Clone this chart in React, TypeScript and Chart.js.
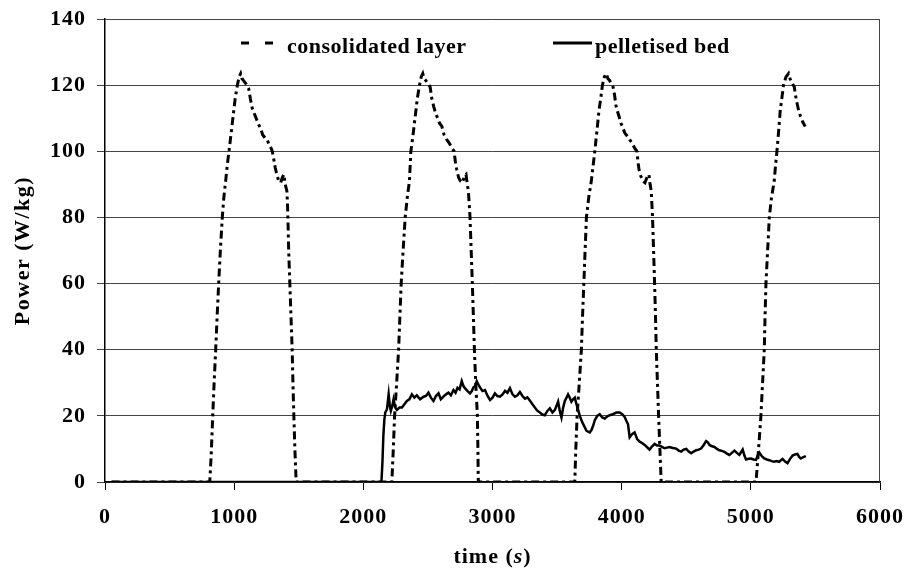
import React, { useEffect, useRef } from 'react';
import { Chart, registerables } from 'chart.js';

Chart.register(...registerables);

// ---------- data ----------
const xTickValues = [0, 1000, 2000, 3000, 4000, 5000, 6000];
const yTickValues = [0, 20, 40, 60, 80, 100, 120, 140];

const seriesNames = ['consolidated layer', 'pelletised bed'];

// consolidated layer: [time (s), power (W/kg)]
const layerIdle1: [number, number][] = [[50, 0], [811, 0]];
const layerCycle1: [number, number][] = [
  [822, 8], [834, 20], [846, 31], [857, 40], [868, 50], [880, 60], [893, 70], [908, 80], [920, 86], [934, 91],
  [947, 96], [960, 100], [975, 105], [990, 110], [1008, 116], [1025, 120], [1038, 122.5], [1050, 123.5], [1060, 122],
  [1070, 121.5], [1090, 120.5], [1112, 119], [1125, 116], [1140, 113], [1155, 111.5], [1170, 110], [1190, 108],
  [1205, 107], [1220, 105], [1240, 104], [1256, 103.5], [1270, 102], [1285, 101], [1295, 100], [1305, 98],
  [1318, 95], [1330, 93], [1345, 91], [1360, 90.5], [1372, 92], [1385, 93], [1395, 90], [1408, 88], [1413, 84],
  [1416, 80], [1422, 70], [1431, 60], [1440, 50], [1449, 40], [1455, 30], [1462, 20], [1470, 10], [1480, 0],
];
const layerIdle2: [number, number][] = [[2221, 0]];
const layerCycle2: [number, number][] = [
  [2232, 10], [2242, 20], [2258, 30], [2273, 40], [2283, 50], [2293, 60], [2308, 70], [2324, 80], [2340, 86],
  [2357, 91], [2368, 100], [2385, 105], [2400, 110], [2418, 116], [2435, 120], [2448, 122.5], [2460, 123.5],
  [2470, 122], [2482, 121.5], [2500, 120.5], [2517, 119.5], [2530, 116], [2545, 113.5], [2556, 112], [2575, 110],
  [2590, 108.5], [2608, 107.5], [2625, 105], [2646, 103.5], [2665, 102.5], [2685, 101], [2703, 100], [2712, 97],
  [2723, 94.5], [2738, 92], [2752, 91], [2768, 90.5], [2782, 92.5], [2795, 93], [2805, 90], [2813, 88], [2820, 84],
  [2826, 80], [2835, 70], [2844, 60], [2852, 50], [2860, 40], [2870, 30], [2883, 20], [2887, 10], [2890, 0],
];
const layerIdle3: [number, number][] = [[3637, 0]];
const layerCycle3: [number, number][] = [
  [3645, 10], [3655, 20], [3672, 30], [3688, 40], [3697, 50], [3707, 60], [3717, 70], [3727, 80], [3745, 86],
  [3765, 91], [3780, 96], [3792, 100], [3808, 106], [3825, 112.5], [3838, 116], [3851, 120], [3866, 122.5],
  [3881, 123.5], [3893, 122], [3905, 121.5], [3920, 120.5], [3933, 119.5], [3945, 117], [3955, 114], [3964, 112.5],
  [3980, 110.5], [3995, 108.5], [4005, 107.5], [4025, 105.5], [4045, 104.5], [4062, 103.5], [4080, 102.5],
  [4100, 101], [4118, 100], [4126, 97], [4134, 94.5], [4148, 92.5], [4165, 91], [4180, 90.5], [4195, 92],
  [4211, 93], [4220, 90], [4229, 88], [4234, 84], [4239, 80], [4247, 70], [4255, 60], [4262, 50], [4268, 40],
  [4277, 30], [4286, 20], [4296, 10], [4306, 0],
];
const layerIdle4: [number, number][] = [[5040, 0]];
const layerCycle4: [number, number][] = [
  [5060, 10], [5078, 20], [5091, 30], [5104, 40], [5110, 50], [5117, 60], [5130, 70], [5143, 80], [5160, 86],
  [5181, 91], [5192, 96], [5202, 100], [5215, 106], [5228, 112.5], [5240, 116], [5253, 120], [5272, 122.5],
  [5292, 123.5], [5303, 122], [5315, 121], [5336, 119.5], [5350, 116], [5369, 112.5], [5385, 110.5], [5400, 109],
  [5421, 107.5],
];

// pelletised bed: [time (s), power (W/kg)]
const bedIdle: [number, number][] = [[50, 0], [2140, 0]];
const bedStartup: [number, number][] = [
  [2148, 6], [2155, 14], [2163, 19], [2170, 21], [2183, 22], [2196, 26.5], [2205, 23], [2213, 21.5], [2224, 23],
  [2234, 25], [2247, 22.5], [2260, 21.8], [2280, 22.5], [2299, 22.5], [2318, 23.5], [2337, 24.5], [2356, 25],
  [2376, 26.5], [2395, 25.5], [2414, 26.2], [2440, 25], [2466, 25.8], [2485, 26], [2504, 27], [2523, 25.5],
  [2543, 24.5], [2562, 26], [2582, 26.8], [2600, 25], [2620, 25.8], [2640, 26.5], [2659, 27], [2678, 26.2],
  [2698, 27.8], [2714, 27], [2729, 28.5], [2745, 28], [2762, 30.5], [2775, 29], [2788, 28.3], [2807, 27.5],
  [2826, 26.8], [2840, 27.5], [2852, 28.6], [2865, 29], [2878, 30.5], [2890, 29.5], [2903, 28.6],
];
const bedPlateau: [number, number][] = [
  [2922, 27.5], [2942, 27.8], [2962, 26], [2981, 24.8], [3000, 25.5], [3019, 26.8], [3038, 26], [3058, 25.8],
  [3078, 26.5], [3097, 27.6], [3116, 27], [3135, 28.4], [3155, 26.5], [3174, 25.8], [3193, 26.2], [3212, 27.2],
  [3232, 26], [3251, 25.2], [3270, 25.6], [3290, 24.6], [3309, 23.5], [3328, 22.5], [3348, 21.5], [3367, 21],
  [3386, 20.4], [3405, 20.2], [3425, 21.5], [3444, 22.3], [3464, 21], [3483, 21.8], [3495, 23], [3508, 24.3],
  [3521, 21.5], [3534, 19.5], [3547, 22.5], [3560, 24.5], [3573, 25.5], [3585, 26.5], [3598, 25.5], [3611, 24.3],
  [3624, 25], [3637, 25.5], [3650, 23.5], [3663, 21.8], [3676, 20], [3689, 18.7], [3702, 17.5], [3714, 16.6],
  [3727, 15.5], [3740, 15.2], [3753, 15], [3766, 15.7], [3779, 17], [3792, 18.7], [3811, 20], [3830, 20.5],
  [3850, 19.5], [3869, 19.2], [3888, 19.8], [3907, 20.2], [3933, 20.5], [3959, 21], [3985, 21], [4004, 20.5],
  [4023, 19.7], [4036, 18.5], [4049, 17.5], [4062, 13.5],
];
const bedDecline: [number, number][] = [
  [4081, 14.5], [4100, 15], [4120, 13], [4139, 12.2], [4158, 11.8], [4178, 11.2], [4197, 10.5], [4216, 9.8],
  [4236, 10.8], [4255, 11.5], [4274, 11], [4293, 11], [4313, 10.6], [4332, 10.2], [4351, 10.4], [4371, 10.6],
  [4396, 10.3], [4422, 10.1], [4441, 9.5], [4461, 9.2], [4480, 9.8], [4500, 10], [4519, 9.2], [4538, 8.7],
  [4557, 9.2], [4577, 9.6], [4596, 9.8], [4615, 10.1], [4635, 11.2], [4654, 12.4], [4667, 12], [4680, 11.2],
  [4699, 10.8], [4718, 10.6], [4738, 10], [4757, 9.6], [4776, 9.4], [4795, 9.1], [4815, 8.6], [4834, 8.2],
  [4853, 8.8], [4873, 9.5], [4892, 8.8], [4911, 8.2], [4924, 9], [4937, 9.8], [4950, 8], [4963, 6.8], [4982, 7],
  [5002, 7.1], [5021, 6.8], [5040, 6.7], [5053, 8], [5066, 8.9], [5085, 7.8], [5104, 7.1], [5124, 6.8],
  [5143, 6.6], [5162, 6.3], [5181, 6.1], [5200, 6.3], [5220, 6.1], [5233, 6.6], [5246, 7], [5265, 6.2],
  [5284, 5.7], [5304, 7], [5323, 8], [5342, 8.3], [5361, 8.5], [5374, 7.6], [5387, 7.1], [5406, 7.5], [5426, 7.8],
];

const layerPoints = [
  ...layerIdle1, ...layerCycle1, ...layerIdle2, ...layerCycle2,
  ...layerIdle3, ...layerCycle3, ...layerIdle4, ...layerCycle4,
];
const bedPoints = [...bedIdle, ...bedStartup, ...bedPlateau, ...bedDecline];

const FONT = '"Liberation Serif", "Times New Roman", serif';

const decorPlugin = {
  id: 'decor',
  beforeDraw(chart: any) {
    (chart.ctx as any).letterSpacing = '1px';
  },
  afterDraw(chart: any) {
    const { ctx, chartArea: a } = chart;
    ctx.save();
    // right frame line
    ctx.strokeStyle = '#444';
    ctx.lineWidth = 1;
    ctx.setLineDash([]);
    ctx.beginPath();
    ctx.moveTo(a.right - 0.5, a.top);
    ctx.lineTo(a.right - 0.5, a.bottom);
    ctx.stroke();

    // legend
    const ly = a.top + 24;
    ctx.strokeStyle = '#000';
    ctx.lineWidth = 3;
    ctx.setLineDash([8, 16]);
    ctx.beginPath();
    ctx.moveTo(a.left + 136, ly);
    ctx.lineTo(a.left + 170, ly);
    ctx.stroke();
    ctx.setLineDash([]);
    ctx.beginPath();
    ctx.moveTo(a.left + 448, ly);
    ctx.lineTo(a.left + 487, ly);
    ctx.stroke();

    ctx.fillStyle = '#000';
    ctx.font = `bold 22px ${FONT}`;
    (ctx as any).letterSpacing = '0.5px';
    ctx.textAlign = 'left';
    ctx.textBaseline = 'alphabetic';
    ctx.fillText(seriesNames[0], a.left + 182, ly + 10);
    ctx.fillText(seriesNames[1], a.left + 490, ly + 10);

    // y axis title
    ctx.save();
    ctx.translate(23, (a.top + a.bottom) / 2);
    ctx.rotate(-Math.PI / 2);
    ctx.textAlign = 'center';
    ctx.textBaseline = 'middle';
    (ctx as any).letterSpacing = '1.5px';
    ctx.font = `bold 22px ${FONT}`;
    ctx.fillText('Power (W/kg)', 0, 0);
    ctx.restore();

    // x axis title with italic s
    const parts: [string, string][] = [
      ['time (', `bold 22px ${FONT}`],
      ['s', `italic bold 22px ${FONT}`],
      [')', `bold 22px ${FONT}`],
    ];
    (ctx as any).letterSpacing = '1px';
    let total = 0;
    const widths = parts.map(([t, f]) => {
      ctx.font = f;
      const w = ctx.measureText(t).width;
      total += w;
      return w;
    });
    let x = (a.left + a.right) / 2 - total / 2;
    ctx.textAlign = 'left';
    ctx.textBaseline = 'alphabetic';
    parts.forEach(([t, f], i) => {
      ctx.font = f;
      ctx.fillText(t, x, 563);
      x += widths[i];
    });
    ctx.restore();
  },
};

export default function App() {
  const ref = useRef<HTMLCanvasElement | null>(null);

  useEffect(() => {
    if (!ref.current) return;
    const tickFont = { family: FONT, size: 22, weight: 'bold' as const };
    const plain = (v: any) => String(v);
    const chart = new Chart(ref.current, {
      type: 'line',
      data: {
        datasets: [
          {
            label: seriesNames[0],
            data: layerPoints.map(([x, y]) => ({ x, y })),
            borderColor: '#000',
            borderWidth: 3,
            borderDash: [8, 4, 3, 4],
            pointRadius: 0,
            tension: 0,
            fill: false,
          },
          {
            label: seriesNames[1],
            data: bedPoints.map(([x, y]) => ({ x, y })),
            borderColor: '#000',
            borderWidth: 2.5,
            pointRadius: 0,
            tension: 0,
            fill: false,
          },
        ],
      },
      options: {
        animation: false,
        responsive: false,
        maintainAspectRatio: false,
        devicePixelRatio: 1,
        layout: { padding: { top: 19, right: 28, left: 0, bottom: 0 } },
        plugins: { legend: { display: false }, tooltip: { enabled: false }, title: { display: false } },
        scales: {
          x: {
            type: 'linear',
            min: 0,
            max: 6000,
            afterBuildTicks: (s: any) => { s.ticks = xTickValues.map((v) => ({ value: v })); },
            ticks: { color: '#000', font: tickFont, padding: 14, maxRotation: 0, autoSkip: false, callback: plain },
            grid: { drawOnChartArea: false, drawTicks: true, tickLength: 8, color: '#000', lineWidth: 1 },
            border: { display: true, color: '#000', width: 1.5 },
            afterFit: (s: any) => { s.height = 87; s.paddingLeft = 0; s.paddingRight = 0; },
          },
          y: {
            type: 'linear',
            min: 0,
            max: 140,
            afterBuildTicks: (s: any) => { s.ticks = yTickValues.map((v) => ({ value: v })); },
            ticks: { color: '#000', font: tickFont, padding: 11, autoSkip: false, callback: plain },
            grid: { color: '#444', lineWidth: 1, drawTicks: true, tickLength: 8 },
            border: { display: true, color: '#000', width: 1.5 },
            afterFit: (s: any) => { s.width = 105; s.paddingTop = 0; s.paddingBottom = 0; },
          },
        },
      },
      plugins: [decorPlugin],
    });
    return () => chart.destroy();
  }, []);

  return (
    <div style={{ position: 'fixed', left: 0, top: 0, width: 908, height: 569, background: '#fff' }}>
      <canvas ref={ref} width={908} height={569} style={{ display: 'block' }} />
    </div>
  );
}
